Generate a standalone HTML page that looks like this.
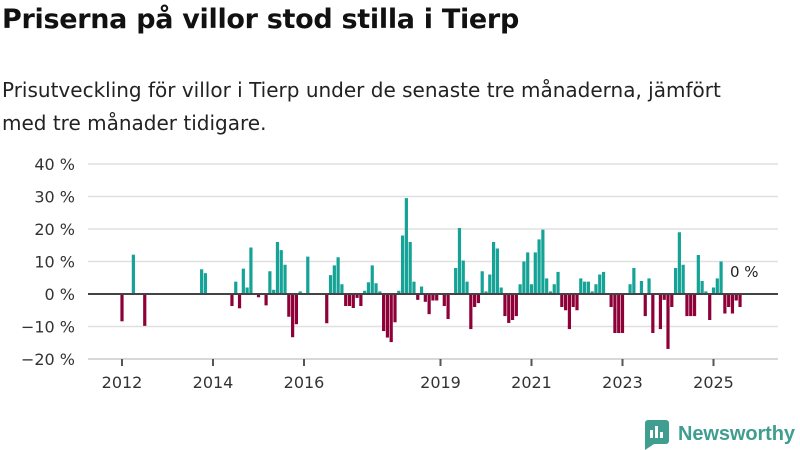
<!DOCTYPE html>
<html><head><meta charset="utf-8"><style>
body{margin:0;width:800px;height:450px;background:#fff;font-family:"Liberation Sans","DejaVu Sans",sans-serif;overflow:hidden;position:relative;color:#111}
h1{position:absolute;left:2px;top:4px;margin:0;font-size:27px;font-weight:bold;font-family:"DejaVu Sans","Liberation Sans",sans-serif;letter-spacing:-0.3px}
.sub{position:absolute;left:2px;top:74px;margin:0;font-size:20px;line-height:33px;font-family:"DejaVu Sans","Liberation Sans",sans-serif;color:#222;width:760px}
svg{position:absolute;left:0;top:0}
</style></head><body>
<h1>Priserna på villor stod stilla i Tierp</h1>
<p class="sub">Prisutveckling för villor i Tierp under de senaste tre månaderna, jämfört med tre månader tidigare.</p>
<svg id="chart" width="800" height="450"></svg>
<script>
const startYear = 2012;
const monthIdx = [0,3,6,21,22,29,30,31,32,33,34,36,38,39,40,41,42,43,44,45,46,47,49,54,55,56,57,58,59,60,61,62,63,64,65,66,67,68,69,70,71,72,73,74,75,76,77,78,79,80,81,82,83,85,86,88,89,90,91,92,93,94,95,96,97,98,99,100,101,102,103,104,105,106,107,108,109,110,111,112,113,114,115,116,117,118,119,120,121,122,123,124,125,126,127,129,130,131,132,134,135,137,138,139,140,142,143,144,145,146,147,148,149,150,151,152,153,154,155,156,157,158,159,160,161,162,163];
const values = [-8.4,12.1,-9.8,7.6,6.4,-3.7,3.8,-4.4,7.8,2,14.3,-1,-3.5,7,1.3,16,13.5,9,-7,-13.3,-9.3,0.8,11.5,-9,5.8,8.8,11.3,3,-3.7,-3.7,-4.3,-1.2,-3.7,1,3.6,8.8,3.3,0.8,-11.4,-13.4,-14.8,-8.7,1,18,29.5,16,3.8,-1.8,2.3,-2.4,-6.2,-2,-2,-3.7,-7.7,8,20.3,10.3,3.8,-10.8,-4,-2.8,7,0.8,6,16,14,2,-6.8,-8.9,-8,-6.8,3,10,12.8,3,12.8,16.8,19.8,4.8,0.8,3,6.8,-4,-5,-10.8,-4,-5,4.8,3.8,3.8,0.8,3,6,6.8,-4,-12,-12,-12,3,8,4,-6.8,4.8,-12,-10.8,-1.8,-16.9,-4,8,19,9,-6.8,-6.8,-6.8,12,4,0.8,-8,2,4.8,10,-6,-4,-6,-2,-4];
const yTicks = [40,30,20,10,0,-10,-20];
const xTickYears = [2012,2014,2016,2019,2021,2023,2025];
const lastLabel = "0 %";

const NS="http://www.w3.org/2000/svg";
const svg=document.getElementById('chart');
const y=v=>294-v*3.25;
const x=m=>122+m*(45.5/12);
function mk(t,a){const e=document.createElementNS(NS,t);for(const k in a)e.setAttribute(k,a[k]);svg.appendChild(e);return e;}
yTicks.forEach(t=>{
  const g=mk('line',{x1:88,x2:778,y1:y(t),y2:y(t),stroke:t===-20?'#ccc':'#e0e0e0','stroke-width':1.5});
  
  
  const l=mk('text',{x:75,y:y(t)+6,'text-anchor':'end','font-size':16,fill:'#333','font-family':'DejaVu Sans, Liberation Sans, sans-serif'});
  l.textContent=(t<0?'−'+(-t):t)+' %';
  
  
});
xTickYears.forEach(yr=>{
  const m=(yr-startYear)*12;
  const tk=mk('line',{x1:x(m),x2:x(m),y1:359,y2:366,stroke:'#555','stroke-width':2});
  
  
  const l=mk('text',{x:x(m),y:388,'text-anchor':'middle','font-size':16,fill:'#333','font-family':'DejaVu Sans, Liberation Sans, sans-serif'});
  l.textContent=yr;
  
  
});
values.forEach((v,i)=>{
  const cx=x(monthIdx[i]);
  const b=mk('rect',{x:cx-1.6,width:3.2,y:Math.min(y(v),y(0)),height:Math.abs(y(v)-y(0)),fill:v>=0?'#14a396':'#8e0038'});
  
  
});
const z=mk('line',{x1:88,x2:778,y1:y(0),y2:y(0),stroke:'#444','stroke-width':2});


const ll=mk('text',{x:730,y:277,'font-size':15,fill:'#222','font-family':'DejaVu Sans, Liberation Sans, sans-serif'});
ll.textContent=lastLabel;


</script>
<svg width="800" height="450">
<rect x="645" y="420" width="24" height="24" rx="3" fill="#3f9e8f"/>
<rect x="650" y="430" width="3" height="8" fill="#fff"/><rect x="655" y="426" width="3" height="12" fill="#fff"/><rect x="660" y="432" width="3" height="6" fill="#fff"/>
<polygon points="645,440 645,450 654,444" fill="#3f9e8f"/>
<text x="678" y="440" font-size="20" font-weight="bold" fill="#3f9e8f" font-family="Liberation Sans, sans-serif" textLength="117">Newsworthy</text>
</svg>
</body></html>
